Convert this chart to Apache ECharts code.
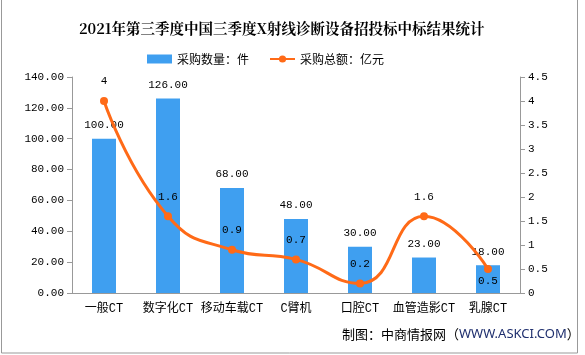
<!DOCTYPE html>
<html><head><meta charset="utf-8">
<script src="https://cdn.jsdelivr.net/npm/echarts@6/dist/echarts.min.js"></script>
<style>html,body{margin:0;padding:0;background:#fff}#c{width:585px;height:355px}</style>
</head><body><div id="c"></div>
<script>
const categories = ['一般CT','数字化CT','移动车载CT','C臂机','口腔CT','血管造影CT','乳腺CT'];
const counts = [100,126,68,48,30,23,18];
const amounts = [4,1.6,0.9,0.7,0.2,1.6,0.5];
const leftTicks = {min:0,max:140,interval:20};
const rightTicks = {min:0,max:4.5,interval:0.5};

const mono = '"Liberation Mono","Noto Sans CJK SC",monospace';
const chart = echarts.init(document.getElementById('c'));
chart.setOption({
  animation:false,
  title:{text:'2021年第三季度中国三季度X射线诊断设备招投标中标结果统计',left:74,top:16,
    textStyle:{fontSize:14.5,fontWeight:'bold',color:'#000',fontFamily:'"Noto Serif CJK SC","Noto Sans CJK SC",serif'}},
  legend:{top:48,left:142,itemGap:20,itemWidth:25,itemHeight:9,
    textStyle:{fontSize:12,color:'#000',fontFamily:'"Noto Sans CJK SC"'},
    data:[{name:'采购数量：件',icon:'rect'},{name:'采购总额：亿元'}]},
  grid:{left:72,right:65,top:77,bottom:62},
  xAxis:{type:'category',data:categories,
    axisLine:{lineStyle:{color:'#999'}},axisTick:{lineStyle:{color:'#999'}},
    axisLabel:{color:'#000',fontSize:12,fontFamily:mono,margin:10,interval:0}},
  yAxis:[
    {type:'value',min:leftTicks.min,max:leftTicks.max,interval:leftTicks.interval,
     axisLine:{show:true,lineStyle:{color:'#999'}},axisTick:{show:true,lineStyle:{color:'#999'}},
     splitLine:{show:false},
     axisLabel:{color:'#000',fontSize:11,fontFamily:mono,formatter:v=>v.toFixed(2)}},
    {type:'value',min:rightTicks.min,max:rightTicks.max,interval:rightTicks.interval,
     axisLine:{show:true,lineStyle:{color:'#999'}},axisTick:{show:true,lineStyle:{color:'#999'}},
     splitLine:{show:false},
     axisLabel:{color:'#000',fontSize:11,fontFamily:mono}}
  ],
  series:[
    {name:'采购数量：件',type:'bar',data:counts,barWidth:24,
     itemStyle:{color:'#3F9FF0'},
     label:{show:true,position:'top',distance:8,color:'#000',fontSize:11,fontFamily:mono,formatter:p=>p.value.toFixed(2)}},
    {name:'采购总额：亿元',type:'line',yAxisIndex:1,smooth:true,
     data:amounts.map((v,i)=>i===amounts.length-1?{value:v,label:{position:'bottom',distance:3}}:v),
     symbol:'circle',symbolSize:8,
     lineStyle:{color:'#FF6A17',width:3},itemStyle:{color:'#FF6A17'},
     label:{show:true,position:'top',distance:10,color:'#000',fontSize:11,fontFamily:mono}}
  ],
  graphic:[
    {type:'rect',shape:{x:1.5,y:-1,width:576,height:354},style:{fill:'none',stroke:'#999',lineWidth:1},silent:true},
    {type:'text',left:342,top:328,style:{
      text:'{a|制图：中商情报网（}{b|WWW.ASKCI.COM}{a|）}',
      rich:{a:{fontSize:13,fill:'#000',fontFamily:'"Noto Sans CJK SC"'},b:{fontSize:13,fill:'#1F2F6E',fontFamily:'"Noto Sans"'}}}}
  ]
});
</script></body></html>
